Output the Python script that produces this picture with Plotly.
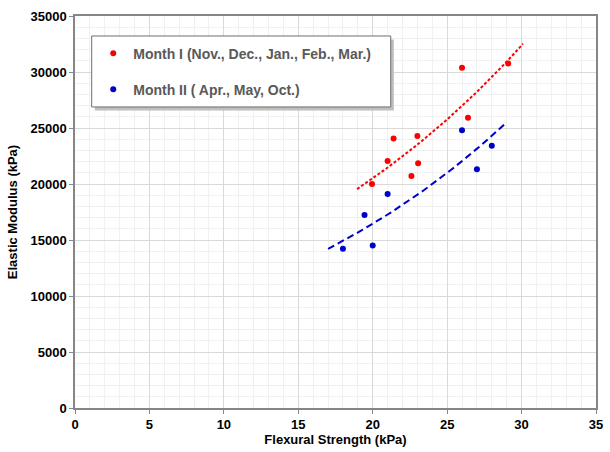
import numpy as np
import plotly.graph_objects as go

# Data
month1_x = [19.95, 21.0, 21.4, 22.6, 23.0, 23.05, 26.0, 26.4, 29.1]
month1_y = [19990, 22060, 24070, 20720, 24280, 21850, 30380, 25910, 30760]
month2_x = [18.0, 19.45, 20.0, 21.0, 26.0, 27.0, 28.0]
month2_y = [14210, 17230, 14510, 19100, 24810, 21320, 23420]
series_names = ["Month I (Nov., Dec., Jan., Feb., Mar.)", "Month II ( Apr., May, Oct.)"]
x_ticks = [0, 5, 10, 15, 20, 25, 30, 35]
y_ticks = [0, 5000, 10000, 15000, 20000, 25000, 30000, 35000]


def exp_trend(xs, ys, back=1.0, fwd=1.0, n=60):
    xs = np.asarray(xs, float)
    ys = np.asarray(ys, float)
    b, ln_a = np.polyfit(xs, np.log(ys), 1)
    xt = np.linspace(xs.min() - back, xs.max() + fwd, n)
    return xt, np.exp(ln_a) * np.exp(b * xt)


t1x, t1y = exp_trend(month1_x, month1_y)
t2x, t2y = exp_trend(month2_x, month2_y, 1.0, 0.9)

fig = go.Figure()
fig.add_trace(go.Scatter(x=t1x, y=t1y, mode="lines", showlegend=False, hoverinfo="skip",
                         line=dict(color="#ff0000", width=2, dash="3px,2px")))
fig.add_trace(go.Scatter(x=t2x, y=t2y, mode="lines", showlegend=False, hoverinfo="skip",
                         line=dict(color="#0000cc", width=2, dash="7px,4px")))
fig.add_trace(go.Scatter(x=month1_x, y=month1_y, mode="markers", name=series_names[0],
                         legendgroup="a", marker=dict(color="#ff0000", size=6)))
fig.add_trace(go.Scatter(x=month2_x, y=month2_y, mode="markers", name=series_names[1],
                         legendgroup="b", marker=dict(color="#0000cc", size=6)))

font = "Liberation Sans, Arial, sans-serif"
axis_common = dict(
    showline=True, linecolor="#868686", linewidth=1.5, mirror=True,
    ticks="outside", ticklen=4, tickcolor="#868686",
    showgrid=True, gridcolor="#d9d9d9", gridwidth=1,
    zeroline=False,
    tickfont=dict(family=font, size=13, color="#000000", weight="bold"),
)

fig.update_xaxes(range=[0, 35], tickvals=x_ticks, ticktext=[str(v) for v in x_ticks],
                 minor=dict(dtick=1, showgrid=True, gridcolor="#f0f0f0", gridwidth=1),
                 title=dict(text="Flexural Strength (kPa)", standoff=4,
                            font=dict(family=font, size=13, color="#000000", weight="bold")),
                 **axis_common)
fig.update_yaxes(range=[0, 35000], tickvals=y_ticks, ticktext=[str(v) for v in y_ticks],
                 minor=dict(dtick=1000, showgrid=True, gridcolor="#f0f0f0", gridwidth=1),
                 title=dict(text="Elastic Modulus (kPa)", standoff=10,
                            font=dict(family=font, size=13, color="#000000", weight="bold")),
                 **axis_common)

# legend box with shadow (drawn as shapes in paper coordinates)
lx0, lx1, ly0, ly1 = 0.032, 0.606, 0.768, 0.949
fig.add_shape(type="rect", xref="paper", yref="paper", x0=lx0 + 0.006, x1=lx1 + 0.006,
              y0=ly0 - 0.009, y1=ly1 - 0.009, line=dict(width=0), fillcolor="#bfbfbf", layer="above")
fig.add_shape(type="rect", xref="paper", yref="paper", x0=lx0, x1=lx1, y0=ly0, y1=ly1,
              line=dict(color="#6e6e6e", width=1), fillcolor="#ffffff", layer="above")

fig.update_layout(
    width=610, height=452,
    margin=dict(l=75, r=7, t=16, b=42),
    plot_bgcolor="#ffffff", paper_bgcolor="#ffffff",
    font=dict(family=font),
    legend=dict(x=0.035, y=ly1 - 0.004, xanchor="left", yanchor="top",
                bgcolor="rgba(0,0,0,0)", borderwidth=0, tracegroupgap=15,
                font=dict(family=font, size=14, color="#595959", weight="bold"),
                itemwidth=30),
)

fig.write_html("out.html")
